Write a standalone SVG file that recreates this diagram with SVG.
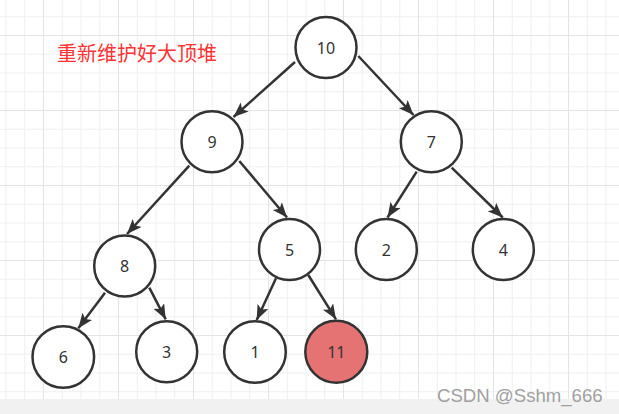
<svg xmlns="http://www.w3.org/2000/svg" width="619" height="414" viewBox="0 0 619 414">
<defs>
<pattern id="grid" x="43" y="35" width="75" height="75" patternUnits="userSpaceOnUse">
<path d="M19.25 0V75M38 0V75M56.75 0V75M0 19.25H75M0 38H75M0 56.75H75" stroke="#efefef" stroke-width="1" fill="none"/>
<path d="M0.5 0V75M0 0.5H75" stroke="#e4e4e4" stroke-width="1" fill="none"/>
</pattern>
<marker id="arr" markerUnits="userSpaceOnUse" markerWidth="17" markerHeight="13" refX="15" refY="6" orient="auto" viewBox="0 0 17 13">
<path d="M0,0 L15,6 L0,12 L3.5,6 Z" fill="#333333"/>
</marker>
</defs>
<style>
.node circle{fill:#ffffff;stroke:#333333;stroke-width:2.5}
.node text{font-family:"Noto Sans","Liberation Sans",sans-serif;font-size:16px;fill:#333333;text-anchor:middle;dominant-baseline:central}
#edges line{stroke:#333333;stroke-width:2.5;marker-end:url(#arr)}
</style>
<rect width="619" height="414" fill="#ffffff"/>
<rect width="619" height="399" fill="url(#grid)"/>
<rect y="399" width="619" height="15" fill="#f1f1f1"/>
<text x="57" y="61" font-family="'Noto Sans CJK SC',sans-serif" font-size="20" fill="#ff3333">重新维护好大顶堆</text>
<g id="edges">
<line x1="295" y1="62" x2="233.5" y2="117"/>
<line x1="358.3" y1="56" x2="413.5" y2="115"/>
<line x1="189.3" y1="165.7" x2="127" y2="234"/>
<line x1="239.3" y1="161" x2="287" y2="217.5"/>
<line x1="416.7" y1="171.7" x2="387.5" y2="217.5"/>
<line x1="451.7" y1="167.7" x2="502.7" y2="217.5"/>
<line x1="105" y1="292.7" x2="78.3" y2="328.3"/>
<line x1="149.3" y1="287.7" x2="165.7" y2="319.3"/>
<line x1="276" y1="278.3" x2="256.7" y2="320"/>
<line x1="308.3" y1="275" x2="336" y2="319.3"/>
</g>
<g id="n10" class="node"><circle cx="326" cy="47.5" r="30.5"/><text x="326" y="47.5">10</text></g>
<g id="n9" class="node"><circle cx="212" cy="141.7" r="30.5"/><text x="212" y="141.7">9</text></g>
<g id="n7" class="node"><circle cx="431.3" cy="141.7" r="30.5"/><text x="431.3" y="141.7">7</text></g>
<g id="n8" class="node"><circle cx="124.7" cy="266" r="30.5"/><text x="124.7" y="266">8</text></g>
<g id="n5" class="node"><circle cx="289.5" cy="249.5" r="30.5"/><text x="289.5" y="249.5">5</text></g>
<g id="n2" class="node"><circle cx="386.3" cy="249.5" r="30.5"/><text x="386.3" y="249.5">2</text></g>
<g id="n4" class="node"><circle cx="503.3" cy="249.5" r="30.5"/><text x="503.3" y="249.5">4</text></g>
<g id="n6" class="node"><circle cx="63.3" cy="357" r="30.8"/><text x="63.3" y="357">6</text></g>
<g id="n3" class="node"><circle cx="166.7" cy="351.7" r="30.5"/><text x="166.7" y="351.7">3</text></g>
<g id="n1" class="node"><circle cx="255" cy="352" r="30.8"/><text x="255" y="352">1</text></g>
<g id="n11" class="node"><circle cx="336.3" cy="351.7" r="31" style="fill:#e57373"/><text x="336.3" y="351.7">11</text></g>
<text x="437" y="402" font-family="'Liberation Sans',Arial,sans-serif" font-size="18.6" fill="#a0a0a0">CSDN @Sshm_666</text>
</svg>
